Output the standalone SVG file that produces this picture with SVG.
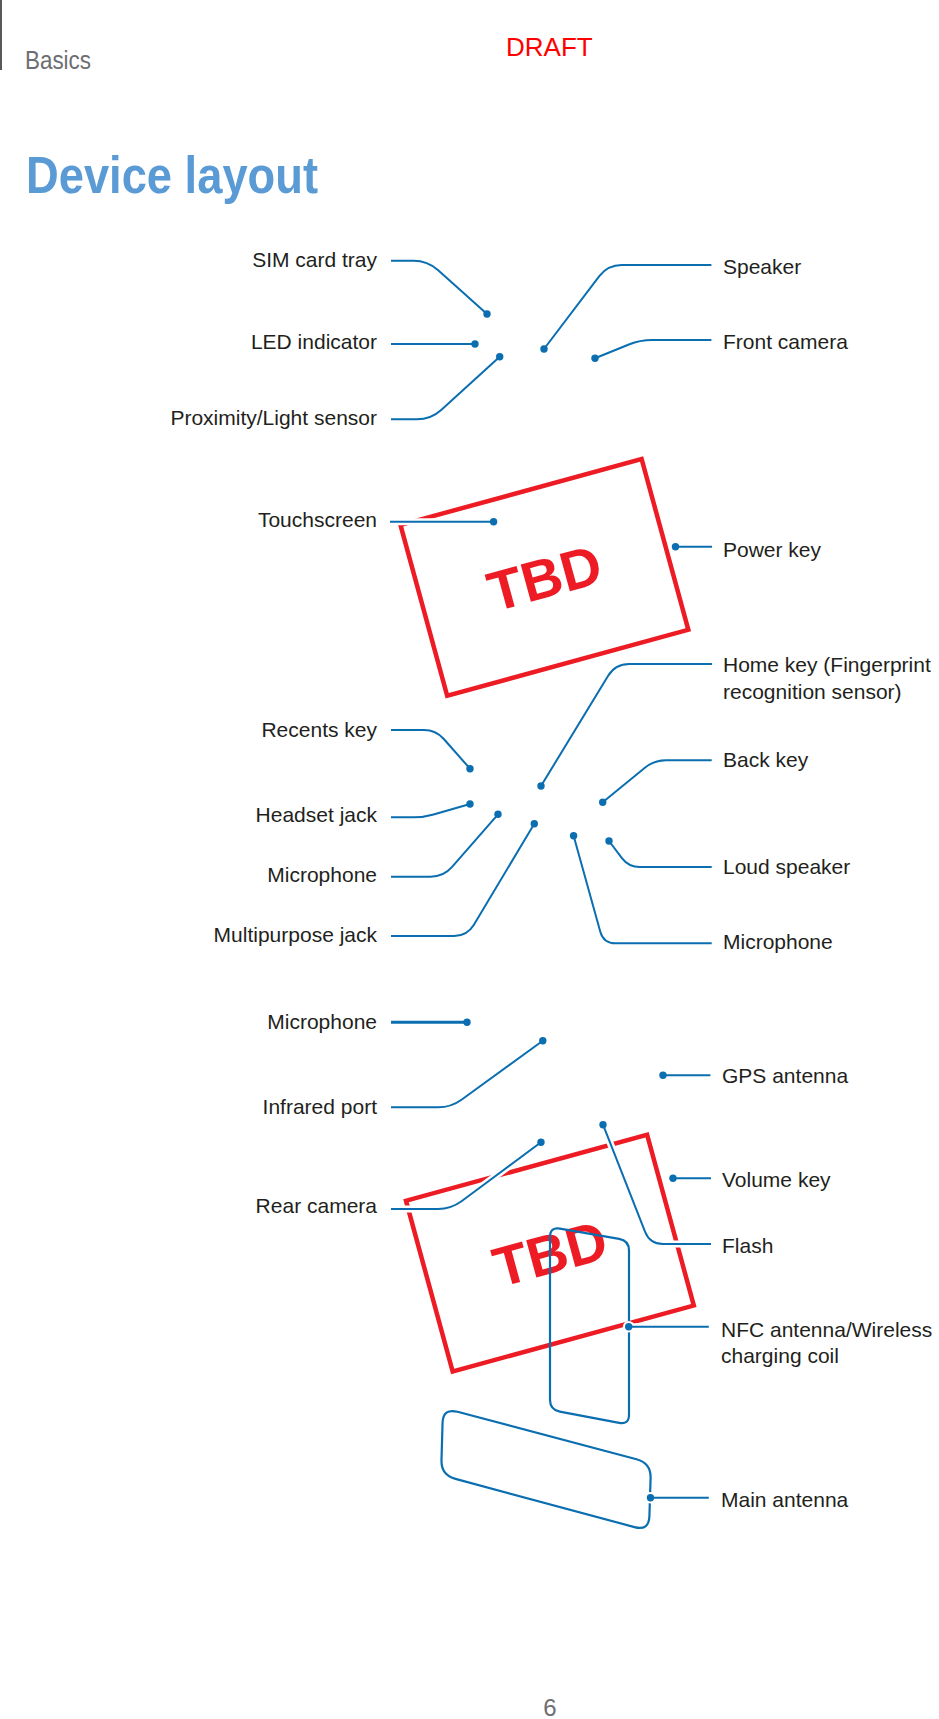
<svg xmlns="http://www.w3.org/2000/svg" width="939" height="1719" viewBox="0 0 939 1719">
<style>
.lbl{font-family:"Liberation Sans",Arial,sans-serif;font-size:21px;fill:#231f20}
.l{text-anchor:end}
.conn{fill:none;stroke:#0a6eb0;stroke-width:2}
.halo{fill:none;stroke:#fff;stroke-width:7}
.shape{fill:none;stroke:#0a6eb0;stroke-width:2.2}
.dev{fill:none;stroke:#ed1c24;stroke-width:4.5}
.tbd{font-family:"Liberation Sans",Arial,sans-serif;font-weight:bold;font-size:56px;fill:#ed1c24;text-anchor:middle}
</style>
<defs>
<marker id="dot" markerUnits="userSpaceOnUse" markerWidth="12" markerHeight="12" refX="6" refY="6" viewBox="0 0 12 12" overflow="visible">
<circle cx="6" cy="6" r="3.7" fill="#0a6eb0"/>
</marker>
<marker id="dotHalo" markerUnits="userSpaceOnUse" markerWidth="16" markerHeight="16" refX="8" refY="8" viewBox="0 0 16 16" overflow="visible">
<circle cx="8" cy="8" r="5.8" fill="#fff"/>
</marker>
<path id="c-sim" d="M391,260.7 H413.5 Q427.5,260.7 437.9,270 L487,314"/>
<path id="c-led" d="M391,344 H475"/>
<path id="c-prox" d="M391,419.3 H416.8 Q430.8,419.3 441.2,409.9 L499.7,356.7"/>
<path id="c-speaker" d="M711.4,265 H621.8 Q607.8,265 599.3,276.1 L544,349"/>
<path id="c-front" d="M711.4,340 H652 Q640,340 628.9,344.5 L595,358.3"/>
<path id="c-touch" d="M390,521.7 H493.6"/>
<path id="c-power" d="M712,546.7 H675.5"/>
<path id="c-home" d="M712,664 H629.3 Q615.3,664 608,676 L541,786"/>
<path id="c-recents" d="M391,730 H423.9 Q435.9,730 443.8,739 L470,768.7"/>
<path id="c-headset" d="M391,817.3 H414 Q424,817.3 433.6,814.5 L470,804"/>
<path id="c-mic1" d="M391,876.7 H430.6 Q443.6,876.7 452.1,866.9 L498,814.3"/>
<path id="c-multi" d="M391,936 H454.2 Q467.2,936 473.9,924.8 L534.3,823.7"/>
<path id="c-mic2" d="M711.7,943.3 H615.5 Q603.5,943.3 600.3,931.7 L573.6,835.7"/>
<path id="c-loud" d="M711.7,867 H639.8 Q628.8,867 622.1,858.3 L609,841"/>
<path id="c-back" d="M711.7,760.3 H665.9 Q653.9,760.3 644.6,767.9 L602.7,802.3"/>
<path id="c-mic3" d="M391,1022.3 H467"/>
<path id="c-ir" d="M391,1107.3 H438 Q451,1107.3 461.5,1099.7 L542.8,1040.7"/>
<path id="c-gps" d="M710.4,1075.3 H663"/>
<path id="c-rear" d="M391,1209 H438 Q451,1209 461.5,1201.3 L541,1142.3"/>
<path id="c-volume" d="M711,1178.3 H673"/>
<path id="c-flash" d="M711,1244 H662.9 Q649.9,1244 645.1,1231.9 L603,1124.7"/>
<path id="c-nfc" d="M708.8,1326.7 H628.7"/>
<path id="c-main" d="M708.8,1497.7 H650.5"/>
</defs>

<g id="header">
<line x1="1" y1="0" x2="1" y2="70" stroke="#231f20" stroke-width="1.5"/>
<text x="25" y="69" font-family="Liberation Sans, Arial, sans-serif" font-size="25" fill="#6d6e71" textLength="66" lengthAdjust="spacingAndGlyphs">Basics</text>
<text x="506" y="55.7" font-family="Liberation Sans, Arial, sans-serif" font-size="26" fill="#ff0000">DRAFT</text>
<text x="26" y="192.7" font-family="Liberation Sans, Arial, sans-serif" font-weight="bold" font-size="52" fill="#5b9bd5" textLength="292" lengthAdjust="spacingAndGlyphs">Device layout</text>
</g>

<g id="device-front" transform="translate(544.4,577.4) rotate(-15.3)">
<rect class="dev" x="-125" y="-88.5" width="250" height="177"/>
<text class="tbd" x="0" y="20">TBD</text>
</g>
<g id="device-back" transform="translate(549.9,1253.1) rotate(-15.3)">
<rect class="dev" x="-125" y="-88.5" width="250" height="177"/>
<text class="tbd" x="0" y="20">TBD</text>
</g>

<g id="nfc-coil">
<path class="shape" d="M550,1237 Q550,1227 559.9,1228.7 L619.1,1238.8 Q629,1240.5 629,1250.5 L629,1414.7 Q629,1424.7 619.2,1422.8 L559.8,1411.6 Q550,1409.7 550,1399.7 Z"/>
</g>
<g id="main-antenna-shape">
<path class="shape" d="M442.55,1423 Q443,1408 457.5,1411.8 L636.5,1459.2 Q651,1463 650.6,1478 L649.4,1516 Q649,1531 634.5,1527.1 L455.5,1478.9 Q441,1475 441.5,1460 Z"/>
</g>

<g id="connectors">
<g class="halo" marker-end="url(#dotHalo)">
<use href="#c-sim"/><use href="#c-led"/><use href="#c-prox"/><use href="#c-speaker"/><use href="#c-front"/>
<use href="#c-touch"/><use href="#c-power"/><use href="#c-home"/><use href="#c-recents"/><use href="#c-headset"/>
<use href="#c-mic1"/><use href="#c-multi"/><use href="#c-mic2"/><use href="#c-loud"/><use href="#c-back"/>
<use href="#c-mic3"/><use href="#c-ir"/><use href="#c-gps"/><use href="#c-rear"/><use href="#c-volume"/>
<use href="#c-flash"/><use href="#c-nfc"/><use href="#c-main"/>
</g>
<g class="conn" marker-end="url(#dot)">
<use href="#c-sim"/><use href="#c-led"/><use href="#c-prox"/><use href="#c-speaker"/><use href="#c-front"/>
<use href="#c-touch"/><use href="#c-power"/><use href="#c-home"/><use href="#c-recents"/><use href="#c-headset"/>
<use href="#c-mic1"/><use href="#c-multi"/><use href="#c-mic2"/><use href="#c-loud"/><use href="#c-back"/>
<use href="#c-mic3" style="stroke-width:3"/><use href="#c-ir"/><use href="#c-gps"/><use href="#c-rear"/><use href="#c-volume"/>
<use href="#c-flash"/><use href="#c-nfc"/><use href="#c-main"/>
</g>
</g>

<g id="label-sim"><text class="lbl l" x="377" y="267.3">SIM card tray</text></g>
<g id="label-led"><text class="lbl l" x="377" y="349">LED indicator</text></g>
<g id="label-prox"><text class="lbl l" x="377" y="425">Proximity/Light sensor</text></g>
<g id="label-touch"><text class="lbl l" x="377" y="527.3">Touchscreen</text></g>
<g id="label-recents"><text class="lbl l" x="377" y="736.7">Recents key</text></g>
<g id="label-headset"><text class="lbl l" x="377" y="821.7">Headset jack</text></g>
<g id="label-mic1"><text class="lbl l" x="377" y="881.7">Microphone</text></g>
<g id="label-multi"><text class="lbl l" x="377" y="942.3">Multipurpose jack</text></g>
<g id="label-mic3"><text class="lbl l" x="377" y="1029">Microphone</text></g>
<g id="label-ir"><text class="lbl l" x="377" y="1114">Infrared port</text></g>
<g id="label-rear"><text class="lbl l" x="377" y="1213.3">Rear camera</text></g>

<g id="label-speaker"><text class="lbl" x="723" y="274">Speaker</text></g>
<g id="label-front"><text class="lbl" x="723" y="349.3">Front camera</text></g>
<g id="label-power"><text class="lbl" x="723" y="557.3">Power key</text></g>
<g id="label-home"><text class="lbl" x="723" y="672.3">Home key (Fingerprint</text><text class="lbl" x="723" y="699">recognition sensor)</text></g>
<g id="label-back"><text class="lbl" x="723" y="767.3">Back key</text></g>
<g id="label-loud"><text class="lbl" x="723" y="874">Loud speaker</text></g>
<g id="label-mic2"><text class="lbl" x="723" y="949.3">Microphone</text></g>
<g id="label-gps"><text class="lbl" x="722" y="1083.3">GPS antenna</text></g>
<g id="label-volume"><text class="lbl" x="722" y="1186.7">Volume key</text></g>
<g id="label-flash"><text class="lbl" x="722" y="1253">Flash</text></g>
<g id="label-nfc"><text class="lbl" x="721" y="1336.7">NFC antenna/Wireless</text><text class="lbl" x="721" y="1363.3">charging coil</text></g>
<g id="label-main"><text class="lbl" x="721" y="1506.7">Main antenna</text></g>

<g id="page-number"><text x="550" y="1715.5" font-family="Liberation Sans, Arial, sans-serif" font-size="24" fill="#6d6e71" text-anchor="middle">6</text></g>
</svg>
